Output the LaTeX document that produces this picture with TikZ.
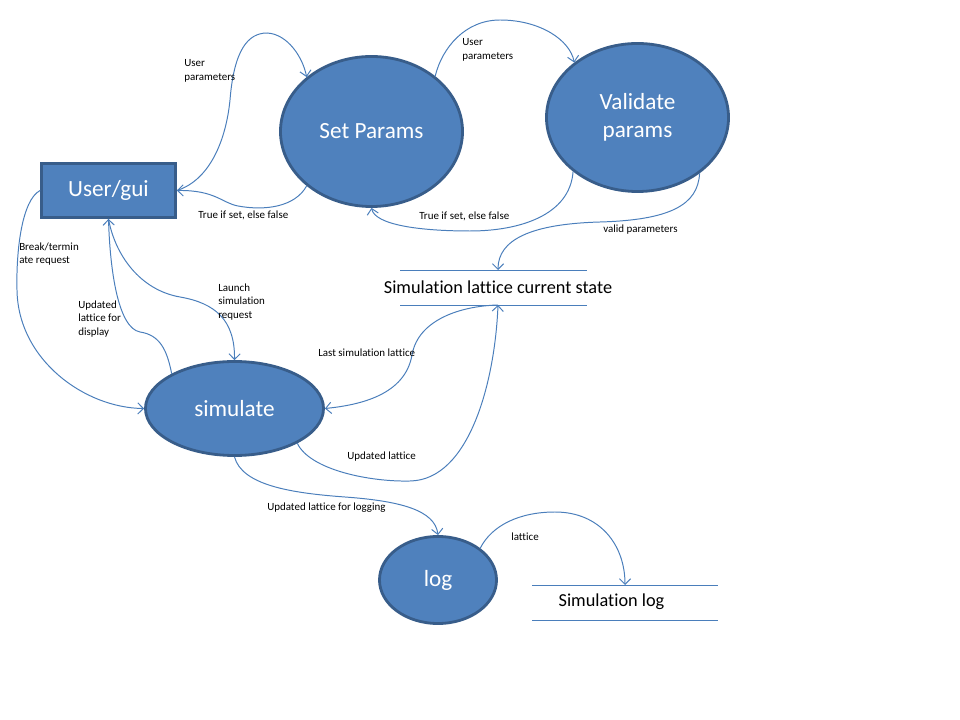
\documentclass[tikz,border=0pt]{standalone}
\usepackage{fontspec}
\setmainfont{Carlito}[Ligatures=NoCommon]
\usepackage{tikz}
\usetikzlibrary{shapes,arrows.meta}
\definecolor{procfill}{RGB}{79,129,189}
\definecolor{procline}{RGB}{56,93,138}
\definecolor{flowblue}{RGB}{74,126,187}
\tikzstyle{process} = [ellipse, draw=procline, fill=procfill, line width=2pt,
    inner sep=0pt, text=white, align=center, font=\fontsize{16.5}{20.3}\selectfont]
\tikzstyle{terminal} = [rectangle, draw=procline, fill=procfill, line width=2pt,
    minimum width=3.35cm, minimum height=1.35cm, text=white, font=\fontsize{16.5}{20.3}\selectfont]
\tikzstyle{store} = [inner sep=0pt, font=\fontsize{13}{15}\selectfont]
\tikzstyle{storeline} = [draw=flowblue, line width=0.7pt]
\tikzstyle{flow} = [draw=flowblue, line width=0.7pt, -{Straight Barb[length=4pt,width=8pt]}]
\tikzstyle{flowlabel} = [anchor=west, inner sep=0pt, align=left, font=\fontsize{7.8}{9.5}\selectfont]
\begin{document}
\begin{tikzpicture}[x=0.025cm, y=-0.025cm]
		\useasboundingbox (0,0) rectangle (960,720);
		% draw the processes and stores first
		\node [terminal] (user) at (108.5,190.5) {User/gui};
		\node [process, minimum width=4.55cm, minimum height=3.75cm] (setparams) at (371.5,131.5) {Set Params};
		\node [process, minimum width=4.55cm, minimum height=3.7cm] (validate) at (637.5,117.5) {Validate\\params};
		\node [process, minimum width=4.45cm, minimum height=2.35cm] (simulate) at (234.5,408.5) {simulate};
		\node [process, minimum width=2.925cm, minimum height=2.175cm] (log) at (438,580) {log};
		\node [store] (lattice) at (498,287) {Simulation lattice current state};
		\node [store] (simlog) at (611.5,602) {Simulation log};
		\draw [storeline] (400,270) -- (587,270);
		\draw [storeline] (400,305) -- (587,305);
		\draw [storeline] (532,585) -- (718,585);
		\draw [storeline] (532,620) -- (718,620);
		\coordinate (latticein) at (498,270);
		\coordinate (latticeout) at (498,305);
		\coordinate (simlogin) at (625,585);

		% draw the data flows between them
		\draw [flow] (user.east) .. controls (210,180) and (226,140) .. (230,100)
			.. controls (234,50) and (248,33) .. (267,33) .. controls (288,34) and (303,58) .. (setparams.140);
		\draw [flow] (setparams.220) .. controls (295,207) and (265,211) .. (238,206)
			.. controls (222,203) and (215,190) .. (user.east);
		\draw [flow] (setparams.41) .. controls (442,48) and (465,20) .. (500,20)
			.. controls (540,20) and (570,40) .. (validate.139);
		\draw [flow] (validate.220) .. controls (570,215) and (520,231) .. (470,231)
			.. controls (420,231) and (375,225) .. (setparams.270);
		\draw [flow] (validate.318) .. controls (698,205) and (670,220) .. (600,222)
			.. controls (530,224) and (498,240) .. (latticein);
		\draw [flow] (user.west) .. controls (22,200) and (16,250) .. (17,290)
			.. controls (18,360) and (85,408) .. (simulate.west);
		\draw [flow] (simulate.151) .. controls (167,350) and (160,335) .. (140,332)
			.. controls (118,328) and (110,270) .. (user.south);
		\draw [flow] (user.south) .. controls (115,255) and (140,290) .. (180,297)
			.. controls (215,303) and (235,320) .. (simulate.north);
		\draw [flow] (latticeout) .. controls (460,306) and (418,320) .. (412,355)
			.. controls (405,395) and (360,405) .. (simulate.east);
		\draw [flow] (simulate.331) .. controls (310,470) and (370,482) .. (410,481)
			.. controls (470,480) and (495,380) .. (latticeout);
		\draw [flow] (simulate.south) .. controls (242,485) and (290,493) .. (345,497)
			.. controls (400,501) and (435,510) .. (log.north);
		\draw [flow] (log.37) .. controls (492,525) and (520,512) .. (555,512)
			.. controls (600,512) and (625,545) .. (simlogin);

		% flow labels
		\node [flowlabel] (l1) at (184,71) {User\\parameters};
		\node [flowlabel] (l2) at (198,215) {True if set, else false};
		\node [flowlabel] (l3) at (462,50) {User\\parameters};
		\node [flowlabel] (l4) at (419,216) {True if set, else false};
		\node [flowlabel] (l5) at (603,230) {valid parameters};
		\node [flowlabel] (l6) at (19,254) {Break/termin\\ate request};
		\node [flowlabel] (l7) at (78,319) {Updated\\lattice for\\display};
		\node [flowlabel] (l8) at (218,302) {Launch\\simulation\\request};
		\node [flowlabel] (l9) at (318,353) {Last simulation lattice};
		\node [flowlabel] (l10) at (347,457) {Updated lattice};
		\node [flowlabel] (l11) at (267,508) {Updated lattice for logging};
		\node [flowlabel] (l12) at (511,537) {lattice};
	\end{tikzpicture}
\end{document}
